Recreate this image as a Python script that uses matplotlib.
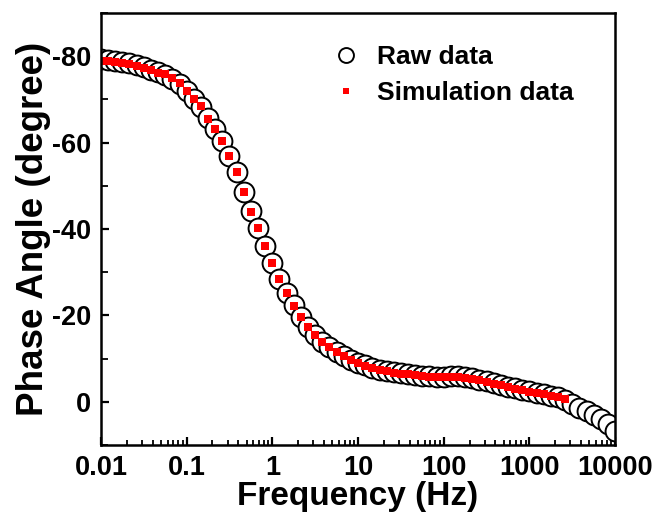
import matplotlib
matplotlib.use("Agg")
import matplotlib.pyplot as plt
import matplotlib.ticker as ticker

plt.rcParams["font.family"] = ["Liberation Sans", "DejaVu Sans"]
plt.rcParams["font.weight"] = "bold"
plt.rcParams["axes.unicode_minus"] = False

# Frequencies (Hz), 12 points per decade
freq = [
    0.01, 0.0121, 0.0147, 0.0178, 0.0215, 0.0261, 0.0316, 0.0383, 0.0464, 0.0562, 0.0681, 0.0825,
    0.1, 0.121, 0.147, 0.178, 0.215, 0.261, 0.316, 0.383, 0.464, 0.562, 0.681, 0.825,
    1.0, 1.21, 1.47, 1.78, 2.15, 2.61, 3.16, 3.83, 4.64, 5.62, 6.81, 8.25,
    10.0, 12.1, 14.7, 17.8, 21.5, 26.1, 31.6, 38.3, 46.4, 56.2, 68.1, 82.5,
    100.0, 121.0, 147.0, 178.0, 215.0, 261.0, 316.0, 383.0, 464.0, 562.0, 681.0, 825.0,
    1000.0, 1210.0, 1470.0, 1780.0, 2150.0, 2610.0, 3160.0, 3830.0, 4640.0, 5620.0, 6810.0, 8250.0,
    10000.0,
]

# Raw data phase angle (degree)
raw_phase = [
    -79.4, -79.2, -79.0, -78.7, -78.4, -78.0, -77.5, -76.9, -76.3, -75.7, -74.8, -73.6,
    -71.9, -70.1, -68.2, -65.6, -63.2, -60.3, -56.9, -53.2, -48.6, -44.1, -40.2, -36.0,
    -32.2, -28.5, -25.2, -22.3, -19.7, -17.4, -15.5, -13.9, -12.7, -11.6, -10.6, -9.7,
    -9.0, -8.4, -7.9, -7.4, -7.1, -6.8, -6.6, -6.4, -6.2, -6.0, -5.9, -5.8,
    -5.8, -5.9, -5.9, -5.7, -5.4, -5.1, -4.7, -4.3, -3.9, -3.5, -3.1, -2.8,
    -2.4, -2.1, -1.8, -1.4, -1.0, -0.4, 0.6, 1.4, 2.2, 3.0, 3.9, 5.1,
    6.7,
]

# Simulation data (fit stops at ~2.6 kHz)
sim_freq = freq[:66]
sim_phase = [
    -79.0, -78.9, -78.7, -78.4, -78.1, -77.8, -77.3, -76.8, -76.2, -75.8, -74.9, -73.7,
    -72.0, -70.2, -68.4, -65.5, -63.2, -60.4, -57.0, -53.3, -48.5, -44.0, -40.2, -36.0,
    -32.2, -28.5, -25.2, -22.2, -19.7, -17.3, -15.4, -13.8, -12.6, -11.5, -10.5, -9.6,
    -8.9, -8.3, -7.8, -7.3, -7.0, -6.7, -6.5, -6.3, -6.1, -5.9, -5.8, -5.7,
    -5.7, -5.8, -5.8, -5.6, -5.3, -5.0, -4.6, -4.2, -3.8, -3.4, -3.0, -2.7,
    -2.3, -2.0, -1.7, -1.3, -1.0, -0.6,
]

xticks = [0.01, 0.1, 1, 10, 100, 1000, 10000]
xtick_labels = ["0.01", "0.1", "1", "10", "100", "1000", "10000"]
yticks = [-80, -60, -40, -20, 0]

fig = plt.figure(figsize=(6.6, 5.24), dpi=100)
ax = fig.add_axes([0.153, 0.151, 0.779, 0.824])

ax.plot(freq, raw_phase, linestyle="none", marker="o", markersize=14.3,
        markerfacecolor="white", markeredgecolor="black", markeredgewidth=1.4,
        label="Raw data")
ax.plot(sim_freq, sim_phase, linestyle="none", marker="s", markersize=6,
        color="#ff0000", markeredgewidth=0, label="Simulation data")

ax.set_xscale("log")
ax.set_xlim(0.01, 10000)
ax.set_ylim(10, -90)
ax.set_xticks(xticks)
ax.set_xticklabels(xtick_labels)
ax.xaxis.set_minor_locator(ticker.LogLocator(base=10, subs=range(2, 10), numticks=20))
ax.xaxis.set_minor_formatter(ticker.NullFormatter())
ax.set_yticks(yticks)
ax.yaxis.set_minor_locator(ticker.MultipleLocator(10))

for side in ax.spines.values():
    side.set_linewidth(1.8)
ax.tick_params(which="major", direction="in", length=6, width=1.6, labelsize=19.5, pad=7)
ax.tick_params(which="minor", direction="in", length=3.5, width=1.3)
ax.tick_params(axis="y", which="minor", length=5)

ax.set_xlabel("Frequency (Hz)", fontsize=24, fontweight="bold", labelpad=0)
ax.set_ylabel("Phase Angle (degree)", fontsize=26.5, fontweight="bold", labelpad=1)

ax.legend(loc="upper left", bbox_to_anchor=(0.39, 0.98), frameon=False,
          markerscale=0.75, handletextpad=0.35, labelspacing=0.45, handlelength=1.6,
          prop={"weight": "bold", "size": 19})

fig.savefig("out.png", dpi=100)
